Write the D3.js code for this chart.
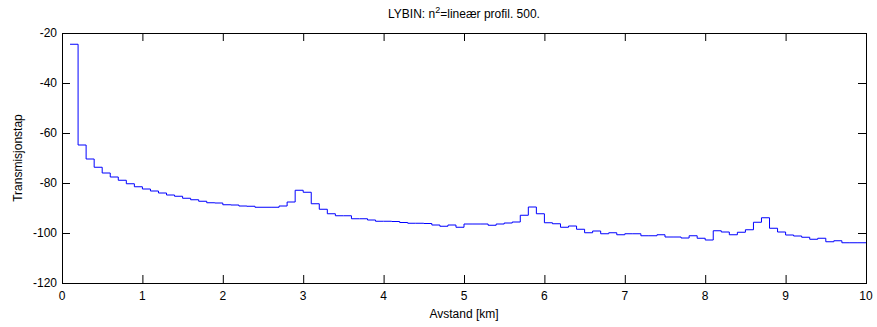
<!DOCTYPE html>
<html>
<head>
<meta charset="utf-8">
<script src="https://cdn.jsdelivr.net/npm/d3@7"></script>
<style>
  html, body { margin: 0; padding: 0; background: #fff; }
  svg { display: block; }
  text { font-family: "Liberation Sans", Arial, sans-serif; fill: #000; }
</style>
</head>
<body>
<div id="chart"></div>
<script>
// Step start positions (km), each step is 0.1 km wide; last step ends at 10 km
const stepStart = 0.1;
const stepWidth = 0.1;
const lossValues = [
  -24.5, -64.8, -70.4, -73.7, -76.0, -77.6, -78.9, -80.3, -81.5,
  -82.4, -83.2, -84.0, -84.8, -85.3, -86.1, -86.7, -87.3, -87.9, -88.0,
  -88.7, -88.8, -89.2, -89.3, -89.7, -89.7, -89.7, -89.2, -87.6, -82.9,
  -83.7, -88.3, -90.5, -92.3, -93.1, -93.1, -94.3, -94.3, -94.8, -95.3,
  -95.3, -95.4, -95.8, -96.1, -96.1, -96.2, -96.8, -97.3, -96.8, -97.7,
  -96.4, -96.4, -96.4, -96.9, -96.4, -96.0, -95.6, -92.9, -89.6, -92.3,
  -95.9, -96.3, -97.7, -97.2, -98.5, -99.9, -99.2, -100.3, -99.9, -100.7,
  -100.3, -100.3, -101.1, -101.1, -100.7, -101.6, -101.6, -102.0, -101.1, -102.1,
  -102.8, -99.1, -99.6, -100.7, -99.7, -98.7, -95.7, -93.9, -98.1, -99.6,
  -100.8, -101.2, -101.7, -102.5, -102.1, -103.5, -103.1, -103.9, -103.9, -103.9
];
const xTicks = [0, 1, 2, 3, 4, 5, 6, 7, 8, 9, 10];
const yTicks = [-120, -100, -80, -60, -40, -20];
const xDomain = [0, 10];
const yDomain = [-120, -20];
const titleMain = "LYBIN: n";
const titleSup = "2";
const titleRest = "=lineær profil. 500.";
const xLabel = "Avstand [km]";
const yLabel = "Transmisjonstap";

const W = 877, H = 327;
const mLeft = 62, mRight = 866, mTop = 33, mBottom = 283;

const svg = d3.select("#chart").append("svg")
  .attr("width", W).attr("height", H);

const x = d3.scaleLinear().domain(xDomain).range([mLeft, mRight]);
const y = d3.scaleLinear().domain(yDomain).range([mBottom, mTop]);

const pts = lossValues.map((v, i) => [stepStart + i * stepWidth, v]);
pts.push([xDomain[1], lossValues[lossValues.length - 1]]);

// ticks (inside, all four sides)
const tickLen = 8;
const g = svg.append("g");
g.append("g").attr("transform", `translate(0,${mBottom})`)
  .call(d3.axisTop(x).tickValues(xTicks).tickSize(tickLen).tickFormat(""))
  .call(s => s.select(".domain").remove());
g.append("g").attr("transform", `translate(0,${mTop})`)
  .call(d3.axisBottom(x).tickValues(xTicks).tickSize(tickLen).tickFormat(""))
  .call(s => s.select(".domain").remove());
g.append("g").attr("transform", `translate(${mLeft},0)`)
  .call(d3.axisRight(y).tickValues(yTicks).tickSize(tickLen).tickFormat(""))
  .call(s => s.select(".domain").remove());
g.append("g").attr("transform", `translate(${mRight},0)`)
  .call(d3.axisLeft(y).tickValues(yTicks).tickSize(tickLen).tickFormat(""))
  .call(s => s.select(".domain").remove());
g.selectAll(".tick line").attr("stroke", "#000").attr("stroke-width", 1);

// tick labels
svg.append("g").selectAll("text").data(xTicks).join("text")
  .attr("x", d => x(d)).attr("y", mBottom + 17)
  .attr("text-anchor", "middle").attr("font-size", 12)
  .text(d => d);
svg.append("g").selectAll("text").data(yTicks).join("text")
  .attr("x", mLeft - 5).attr("y", d => y(d) + 4)
  .attr("text-anchor", "end").attr("font-size", 12)
  .text(d => d);

// data line
const line = d3.line().x(d => x(d[0])).y(d => y(d[1])).curve(d3.curveStepAfter);
svg.append("path").datum(pts)
  .attr("d", line)
  .attr("fill", "none").attr("stroke", "#0000ff").attr("stroke-width", 1);

// frame
svg.append("rect")
  .attr("x", mLeft + 0.5).attr("y", mTop + 0.5)
  .attr("width", mRight - mLeft).attr("height", mBottom - mTop)
  .attr("fill", "none").attr("stroke", "#000").attr("stroke-width", 1);

// title
const t = svg.append("text").attr("x", (mLeft + mRight) / 2).attr("y", 18)
  .attr("text-anchor", "middle").attr("font-size", 12);
t.append("tspan").text(titleMain);
t.append("tspan").attr("font-size", 9).attr("dy", -5).text(titleSup);
t.append("tspan").attr("dy", 5).text(titleRest);

// axis labels
svg.append("text").attr("x", (mLeft + mRight) / 2).attr("y", 318)
  .attr("text-anchor", "middle").attr("font-size", 12).text(xLabel);
svg.append("text")
  .attr("transform", `translate(22,${(mTop + mBottom) / 2}) rotate(-90)`)
  .attr("text-anchor", "middle").attr("font-size", 12).text(yLabel);
</script>
</body>
</html>
